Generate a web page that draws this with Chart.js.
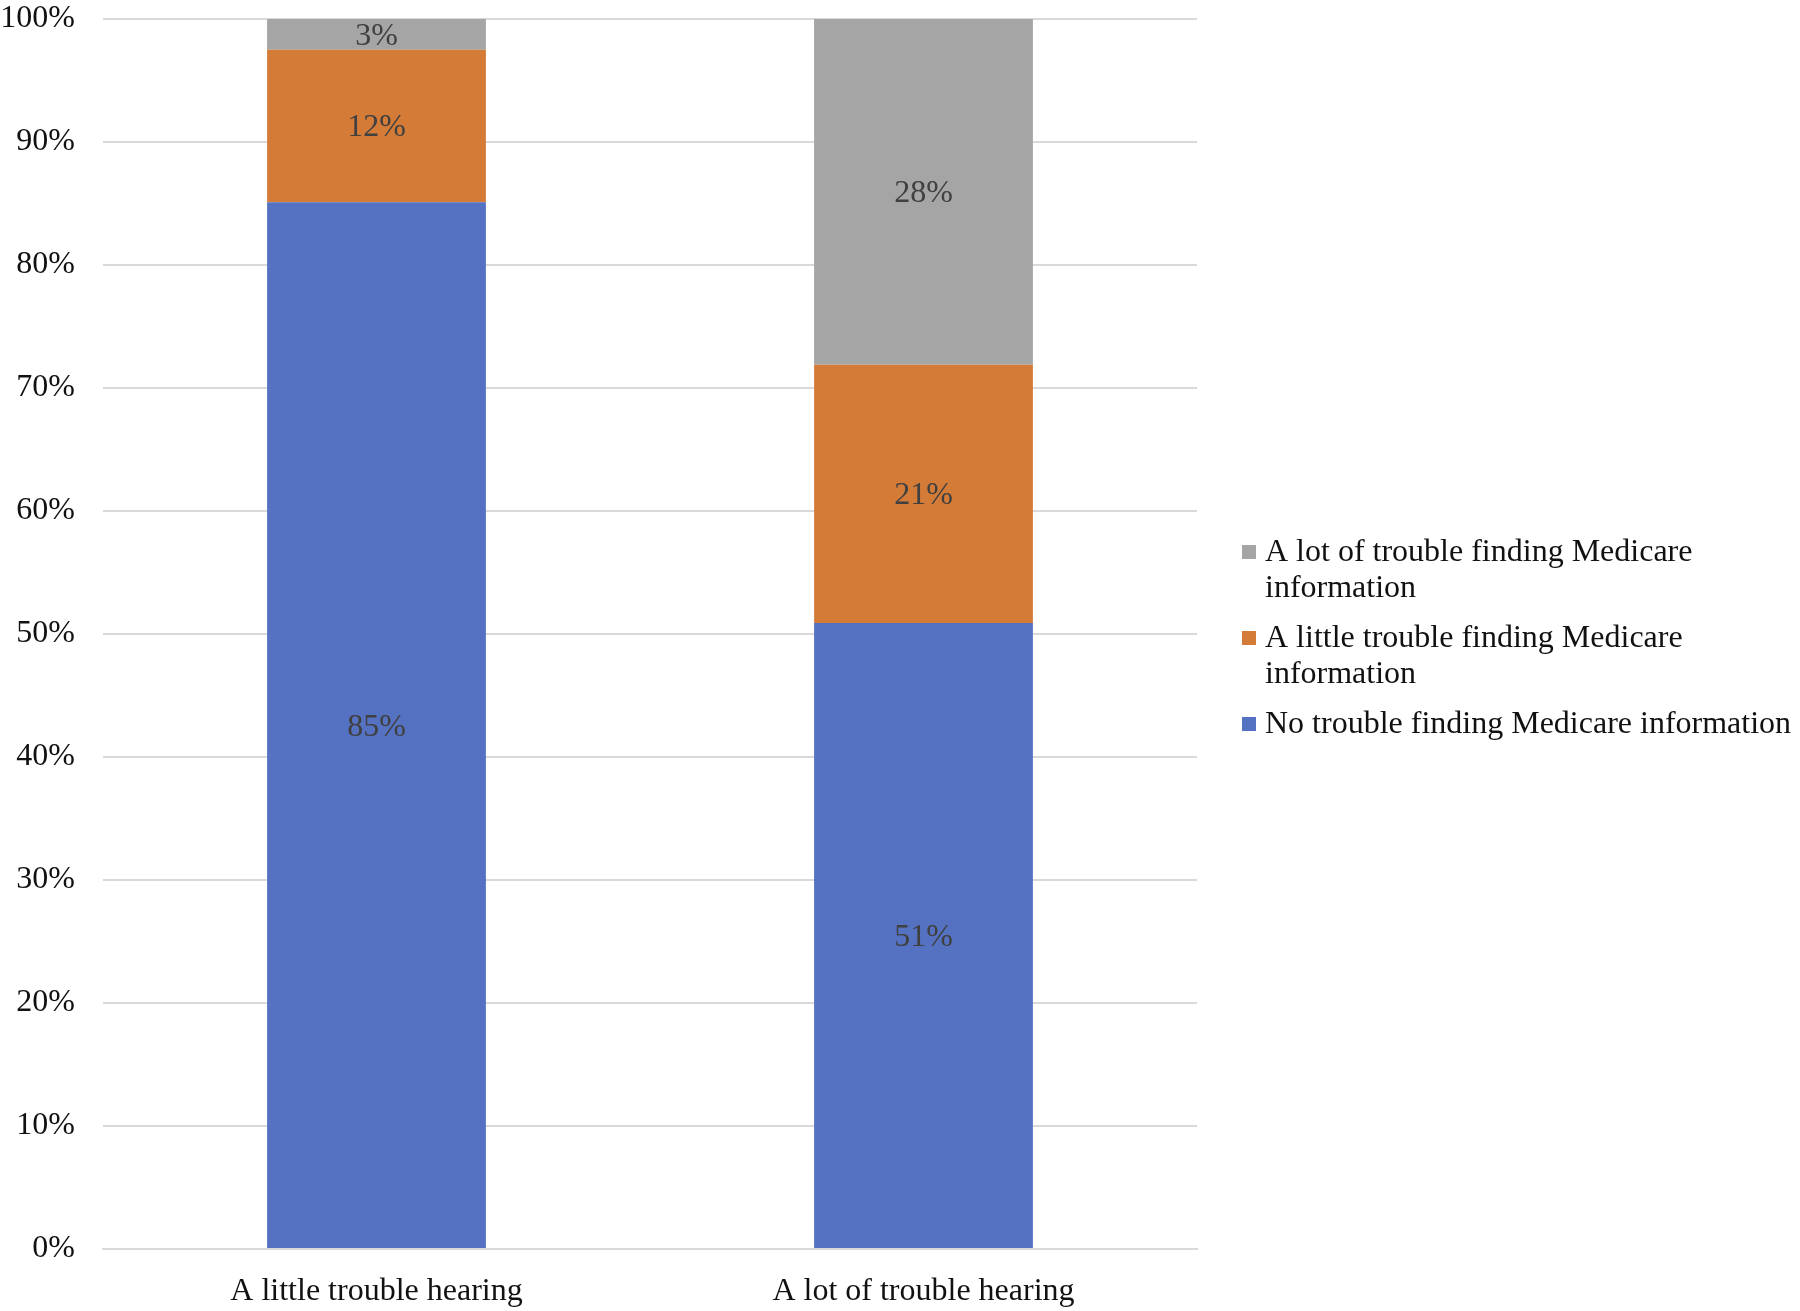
<!DOCTYPE html>
<html>
<head>
<meta charset="utf-8">
<script src="https://cdn.jsdelivr.net/npm/chart.js@4.4.0/dist/chart.umd.min.js"></script>
<style>
  html, body { margin: 0; padding: 0; background: #fff; }
  #wrap { width: 1800px; height: 1311px; }
</style>
</head>
<body>
<div id="wrap"><canvas id="c" width="1800" height="1311"></canvas></div>
<script>
const categories = ['A little trouble hearing', 'A lot of trouble hearing'];
const noTrouble = [85.1, 50.9];
const littleTrouble = [12.4, 21.0];
const lotTrouble = [2.5, 28.1];
const seriesNames = [
    'No trouble finding Medicare information',
    'A little trouble finding Medicare information',
    'A lot of trouble finding Medicare information'
];
// same order as the datasets; drawn top-down in reverse
const legendLines = [
    ['No trouble finding Medicare information'],
    ['A little trouble finding Medicare', 'information'],
    ['A lot of trouble finding Medicare', 'information']
];
const seriesColors = ['#5571c1', '#d57b38', '#a5a5a5'];

const FONT = '"Liberation Serif", "Times New Roman", serif';

// value labels in the middle of each segment
const barLabels = {
    id: 'barLabels',
    afterDatasetsDraw(chart) {
        const ctx = chart.ctx;
        ctx.save();
        ctx.font = '32px ' + FONT;
        ctx.fillStyle = '#404040';
        ctx.textAlign = 'center';
        ctx.textBaseline = 'middle';
        chart.data.datasets.forEach((ds, i) => {
            chart.getDatasetMeta(i).data.forEach((el, j) => {
                ctx.fillText(Math.round(ds.data[j]) + '%', el.x, (el.y + el.base) / 2 + 2);
            });
        });
        ctx.restore();
    }
};

// legend on the right, with wrapped lines
const sideLegend = {
    id: 'sideLegend',
    afterDraw(chart) {
        const ctx = chart.ctx;
        const lineH = 36, gap = 14;
        let y = 552;
        ctx.save();
        ctx.font = '32px ' + FONT;
        ctx.textBaseline = 'middle';
        ctx.textAlign = 'left';
        for (let i = chart.data.datasets.length - 1; i >= 0; i--) {
            const ds = chart.data.datasets[i];
            ctx.fillStyle = ds.backgroundColor;
            ctx.fillRect(1242, y - 7, 14, 14);
            ctx.fillStyle = '#111';
            legendLines[i].forEach((line, k) => ctx.fillText(line, 1265, y + k * lineH + 1));
            y += legendLines[i].length * lineH + gap;
        }
        ctx.restore();
    }
};

new Chart(document.getElementById('c'), {
    type: 'bar',
    data: {
        labels: categories,
        datasets: [
            { label: seriesNames[0], data: noTrouble, backgroundColor: seriesColors[0] },
            { label: seriesNames[1], data: littleTrouble, backgroundColor: seriesColors[1] },
            { label: seriesNames[2], data: lotTrouble, backgroundColor: seriesColors[2] }
        ]
    },
    options: {
        responsive: false,
        animation: false,
        devicePixelRatio: 1,
        barPercentage: 0.4,
        categoryPercentage: 1.0,
        layout: { padding: { top: 19, right: 603, left: 0, bottom: 0 } },
        plugins: {
            legend: { display: false },
            tooltip: { enabled: false }
        },
        scales: {
            x: {
                stacked: true,
                grid: { display: false },
                border: { display: true, color: '#d9d9d9', width: 2 },
                ticks: { font: { family: FONT, size: 32 }, color: '#111', padding: 15 },
                afterFit: s => { s.height = 62; }
            },
            y: {
                stacked: true,
                min: 0,
                max: 100,
                ticks: {
                    stepSize: 10,
                    callback: v => v + '%',
                    font: { family: FONT, size: 32, lineHeight: 1.1 },
                    color: '#111',
                    padding: 0
                },
                // invisible tick marks push the labels left of the plot
                grid: { color: '#d9d9d9', lineWidth: 2, drawTicks: true, tickLength: 28, tickColor: 'rgba(0,0,0,0)' },
                border: { display: false },
                afterFit: s => { s.width = 103; }
            }
        }
    },
    plugins: [barLabels, sideLegend]
});
</script>
</body>
</html>
